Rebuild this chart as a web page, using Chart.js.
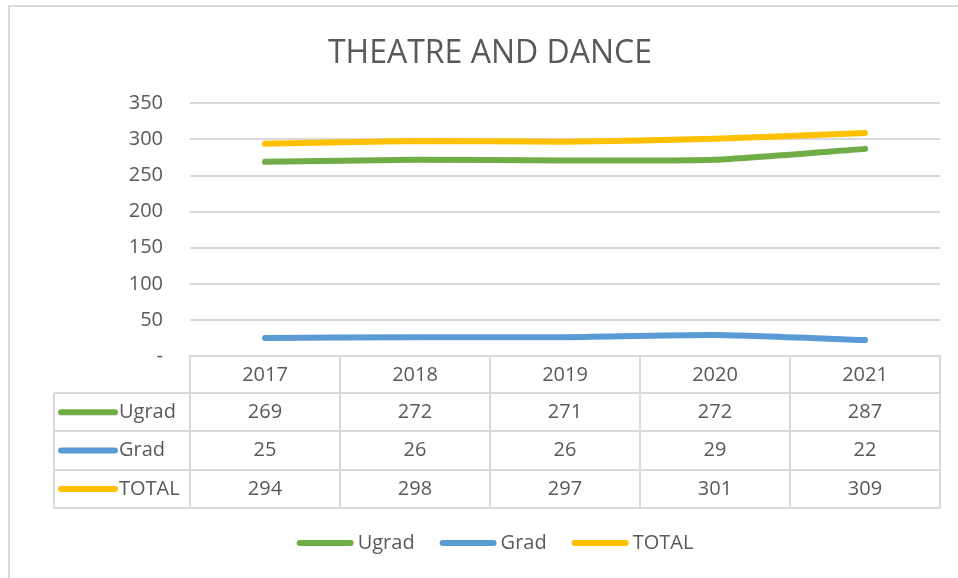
<!DOCTYPE html>
<html>
<head>
<meta charset="utf-8">
<script src="https://cdn.jsdelivr.net/npm/chart.js@4"></script>
<style>
  html, body { margin: 0; padding: 0; background: #ffffff; }
  #wrap { width: 958px; height: 578px; }
</style>
</head>
<body>
<div id="wrap"><canvas id="c" width="958" height="578"></canvas></div>
<script>
// ---- data ----
const titleText = 'THEATRE AND DANCE';
const years = ['2017', '2018', '2019', '2020', '2021'];
const seriesNames = ['Ugrad', 'Grad', 'TOTAL'];
const ugrad = [269, 272, 271, 272, 287];
const grad = [25, 26, 26, 29, 22];
const total = [294, 298, 297, 301, 309];
const yTicks = [0, 50, 100, 150, 200, 250, 300, 350];
const seriesColors = ['#70AD47', '#5B9BD5', '#FFC000'];

const seriesValues = [ugrad, grad, total];
const TEXT = '#595959';
const GRID = '#D9D9D9';
const FONT = "'Open Sans', 'Noto Sans', sans-serif";

Chart.defaults.font.family = FONT;
Chart.defaults.color = TEXT;

const bgPlugin = {
  id: 'bg',
  beforeDraw(chart) {
    const ctx = chart.ctx;
    ctx.save();
    ctx.fillStyle = '#ffffff';
    ctx.fillRect(0, 0, chart.width, chart.height);
    ctx.strokeStyle = GRID;
    ctx.lineWidth = 2;
    ctx.beginPath();
    ctx.moveTo(8, 6);
    ctx.lineTo(chart.width, 6);
    ctx.moveTo(9, 6);
    ctx.lineTo(9, chart.height);
    ctx.stroke();
    ctx.restore();
  }
};

const tablePlugin = {
  id: 'dataTable',
  afterDraw(chart) {
    const ctx = chart.ctx;
    const xs = chart.scales.x;
    const area = chart.chartArea;
    const headerH = 37;
    const rowH = 38.4;
    const tableLeft = 54;
    const top = area.bottom + headerH;
    const n = years.length;
    const step = (area.right - area.left) / n;
    ctx.save();
    ctx.strokeStyle = GRID;
    ctx.lineWidth = 2;
    ctx.beginPath();
    for (let r = 0; r <= seriesNames.length; r++) {
      const y = Math.round(top + r * rowH);
      ctx.moveTo(tableLeft, y);
      ctx.lineTo(area.right, y);
    }
    const bottom = Math.round(top + seriesNames.length * rowH);
    ctx.moveTo(tableLeft, top);
    ctx.lineTo(tableLeft, bottom);
    for (let i = 0; i <= n; i++) {
      const x = area.left + i * step;
      ctx.moveTo(x, top);
      ctx.lineTo(x, bottom);
    }
    ctx.stroke();

    ctx.font = '20px ' + FONT;
    ctx.textBaseline = 'middle';
    seriesNames.forEach((name, r) => {
      const cy = top + r * rowH + rowH / 2;
      ctx.strokeStyle = seriesColors[r];
      ctx.lineWidth = 6;
      ctx.lineCap = 'round';
      ctx.beginPath();
      ctx.moveTo(61, cy);
      ctx.lineTo(115, cy);
      ctx.stroke();
      ctx.fillStyle = TEXT;
      ctx.textAlign = 'left';
      ctx.fillText(name, 119, cy);
      ctx.textAlign = 'center';
      seriesValues[r].forEach((v, i) => {
        ctx.fillText(String(v), xs.getPixelForValue(i), cy);
      });
    });

    // legend
    const keyW = 57, gapKey = 4, gapItem = 25;
    const widths = seriesNames.map(s => ctx.measureText(s).width);
    let totalW = 0;
    widths.forEach((w, i) => { totalW += keyW + gapKey + w + (i < widths.length - 1 ? gapItem : 0); });
    let x = 495 - totalW / 2;
    const ly = 543;
    seriesNames.forEach((name, i) => {
      ctx.strokeStyle = seriesColors[i];
      ctx.lineWidth = 6;
      ctx.lineCap = 'round';
      ctx.beginPath();
      ctx.moveTo(x + 3, ly);
      ctx.lineTo(x + keyW - 3, ly);
      ctx.stroke();
      ctx.fillStyle = TEXT;
      ctx.textAlign = 'left';
      ctx.fillText(name, x + keyW + gapKey, ly);
      x += keyW + gapKey + widths[i] + gapItem;
    });
    ctx.restore();
  }
};

new Chart(document.getElementById('c'), {
  type: 'line',
  data: {
    labels: years,
    datasets: seriesNames.map((name, i) => ({
      label: name,
      data: seriesValues[i],
      borderColor: seriesColors[i],
      backgroundColor: seriesColors[i],
      borderWidth: 6,
      borderCapStyle: 'round',
      borderJoinStyle: 'round',
      pointRadius: 0,
      pointHoverRadius: 0,
      tension: 0.2,
      fill: false
    }))
  },
  options: {
    responsive: false,
    animation: false,
    events: [],
    layout: { padding: { left: 40, right: 18, top: 0, bottom: 0 } },
    plugins: {
      legend: { display: false },
      tooltip: { enabled: false },
      title: {
        display: true,
        text: titleText,
        color: TEXT,
        font: { family: FONT, size: 32, weight: 400, lineHeight: 1.2 },
        padding: { top: 35, bottom: 30 }
      }
    },
    scales: {
      x: {
        type: 'category',
        offset: true,
        grid: {
          display: true,
          offset: true,
          drawOnChartArea: false,
          drawTicks: true,
          tickLength: 37,
          color: GRID,
          lineWidth: 2
        },
        border: { display: true, color: GRID, width: 2 },
        ticks: {
          padding: -30,
          color: TEXT,
          font: { family: FONT, size: 20 },
          maxRotation: 0,
          autoSkip: false
        },
        afterFit(scale) { scale.height = 222; }
      },
      y: {
        min: 0,
        max: 350,
        afterBuildTicks(scale) { scale.ticks = yTicks.map(v => ({ value: v })); },
        grid: { color: GRID, lineWidth: 2, drawTicks: false },
        border: { display: false },
        ticks: {
          padding: 27,
          color: TEXT,
          font: { family: FONT, size: 20 },
          callback: (v) => (v === 0 ? '-' : String(v))
        },
        afterFit(scale) { scale.width = 150; }
      }
    }
  },
  plugins: [bgPlugin, tablePlugin]
});
</script>
</body>
</html>
